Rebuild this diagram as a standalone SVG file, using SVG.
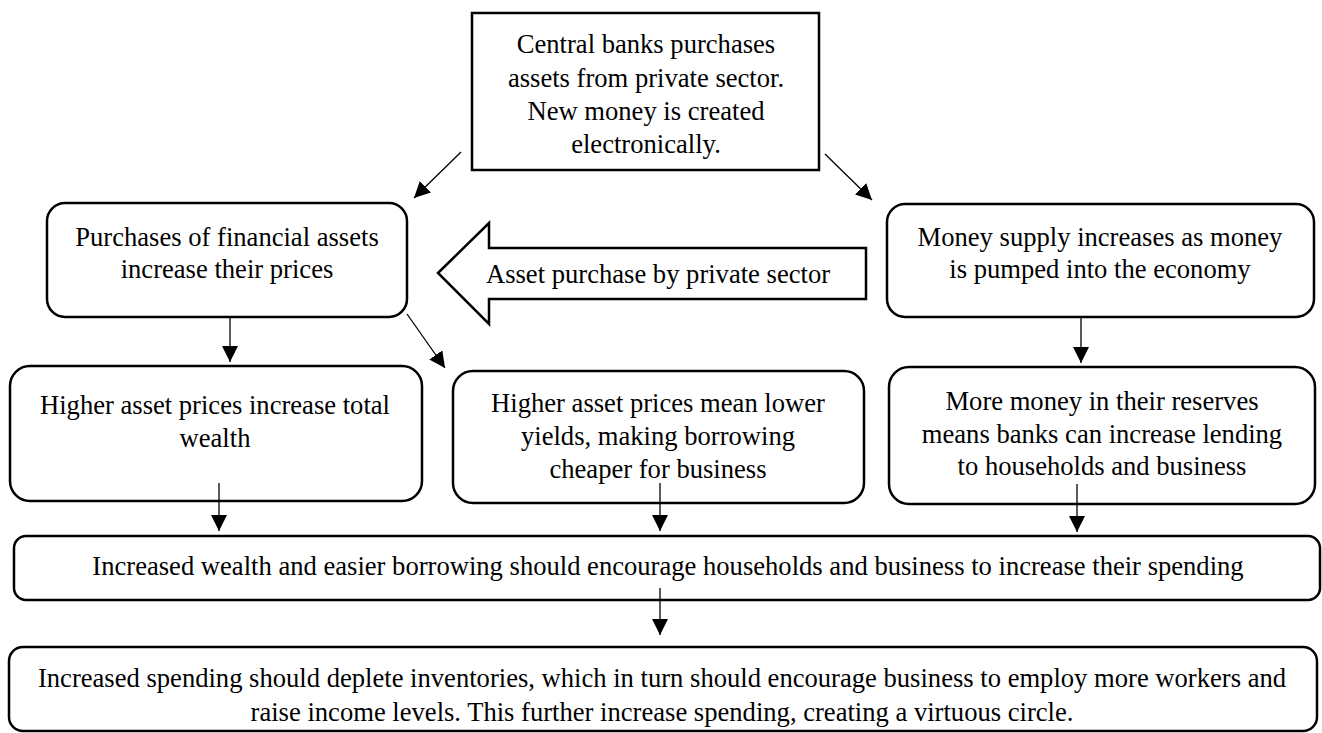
<svg xmlns="http://www.w3.org/2000/svg" width="1322" height="733" viewBox="0 0 1322 733">
  <style>
    .box { fill: #ffffff; stroke: #000000; stroke-width: 2.5; }
    .txt { font-family: "Liberation Serif", "Times New Roman", serif; font-size: 26.6px; fill: #000000; text-anchor: middle; }
    .conn { stroke: #000000; stroke-width: 1.3; fill: none; marker-end: url(#arrow); }
  </style>
  <defs>
    <marker id="arrow" markerUnits="userSpaceOnUse" markerWidth="16" markerHeight="16" refX="16" refY="8" orient="auto">
      <path d="M0,0 L16,8 L0,16 z" fill="#000000"/>
    </marker>
  </defs>
  <rect width="1322" height="733" fill="#ffffff"/>

  <g id="central-bank">
    <rect class="box" x="472" y="13" width="347" height="157"/>
    <text class="txt" x="646" y="53">Central banks purchases</text>
    <text class="txt" x="646" y="87">assets from private sector.</text>
    <text class="txt" x="646" y="120">New money is created</text>
    <text class="txt" x="646" y="153">electronically.</text>
  </g>

  <g id="financial-assets">
    <rect class="box" x="47" y="203" width="360" height="114" rx="18" ry="18"/>
    <text class="txt" x="227" y="246">Purchases of financial assets</text>
    <text class="txt" x="227" y="278">increase their prices</text>
  </g>

  <g id="asset-purchase-arrow">
    <polygon class="box" points="438,273 489,223 489,248 866,248 866,299 489,299 489,324"/>
    <text class="txt" x="658" y="283">Asset purchase by private sector</text>
  </g>

  <g id="money-supply">
    <rect class="box" x="887" y="204" width="427" height="113" rx="18" ry="18"/>
    <text class="txt" x="1100" y="246">Money supply increases as money</text>
    <text class="txt" x="1100" y="278">is pumped into the economy</text>
  </g>

  <g id="total-wealth">
    <rect class="box" x="10" y="366" width="412" height="135" rx="20" ry="20"/>
    <text class="txt" x="215" y="414">Higher asset prices increase total</text>
    <text class="txt" x="215" y="447">wealth</text>
  </g>

  <g id="lower-yields">
    <rect class="box" x="453" y="371" width="411" height="132" rx="20" ry="20"/>
    <text class="txt" x="658" y="412">Higher asset prices mean lower</text>
    <text class="txt" x="658" y="445">yields, making borrowing</text>
    <text class="txt" x="658" y="478">cheaper for business</text>
  </g>

  <g id="bank-lending">
    <rect class="box" x="889" y="367" width="426" height="137" rx="20" ry="20"/>
    <text class="txt" x="1102" y="410">More money in their reserves</text>
    <text class="txt" x="1102" y="443">means banks can increase lending</text>
    <text class="txt" x="1102" y="475">to households and business</text>
  </g>

  <g id="increase-spending">
    <rect class="box" x="14" y="536" width="1306" height="64" rx="12" ry="12"/>
    <text class="txt" x="668" y="575">Increased wealth and easier borrowing should encourage households and business to increase their spending</text>
  </g>

  <g id="virtuous-circle">
    <rect class="box" x="9" y="647" width="1308" height="84" rx="14" ry="14"/>
    <text class="txt" x="662" y="687">Increased spending should deplete inventories, which in turn should encourage business to employ more workers and</text>
    <text class="txt" x="662" y="721">raise income levels. This further increase spending, creating a virtuous circle.</text>
  </g>

  <g id="connectors">
    <line class="conn" x1="461" y1="152" x2="414" y2="198"/>
    <line class="conn" x1="825" y1="154" x2="872" y2="200"/>
    <line class="conn" x1="230" y1="317" x2="230" y2="362"/>
    <line class="conn" x1="407" y1="314" x2="445" y2="368"/>
    <line class="conn" x1="1081" y1="317" x2="1081" y2="363"/>
    <line class="conn" x1="219" y1="483" x2="219" y2="531"/>
    <line class="conn" x1="660" y1="483" x2="660" y2="531"/>
    <line class="conn" x1="1077" y1="484" x2="1077" y2="532"/>
    <line class="conn" x1="660" y1="588" x2="660" y2="635"/>
  </g>
</svg>
